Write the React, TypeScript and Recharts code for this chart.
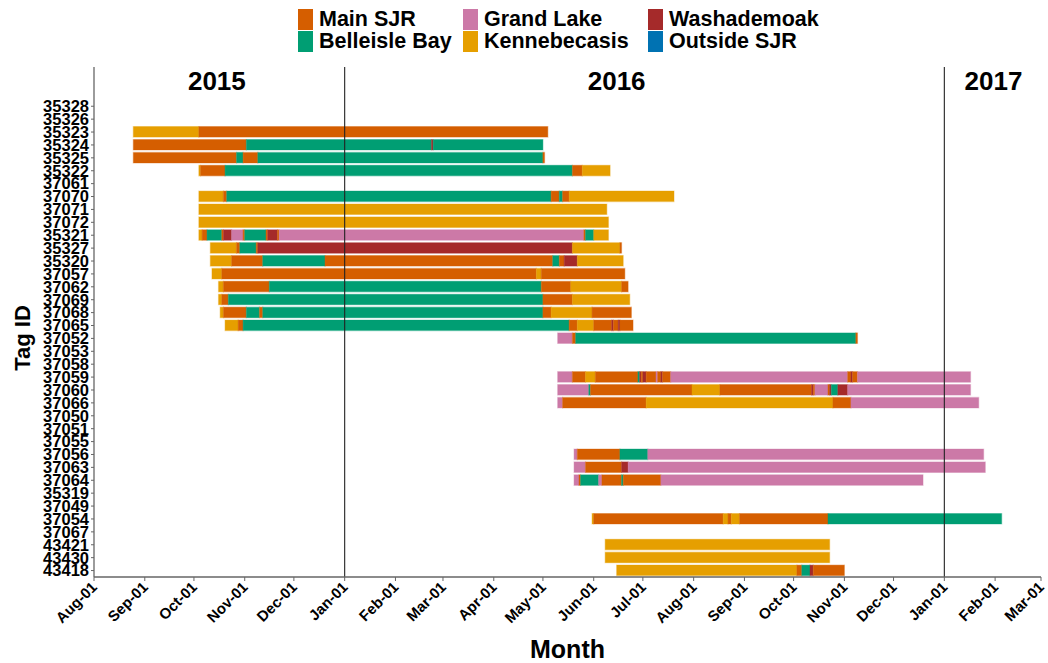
import { Bar, BarChart, Cell, Label, Legend, ReferenceLine, XAxis, YAxis } from 'recharts'

const FONT = '"Liberation Sans", Arial, sans-serif'

const locationCodes = ['M', 'G', 'W', 'B', 'K', 'O']
const locationNames = ['Main SJR', 'Grand Lake', 'Washademoak', 'Belleisle Bay', 'Kennebecasis', 'Outside SJR']
const locationColors = ['#D55E00', '#CC79A7', '#A52A2A', '#009E73', '#E69F00', '#0072B2']

const tagIds = [
  '35328', '35326', '35323', '35324', '35325', '35322', '37061', '37070', '37071', '37072',
  '35321', '35327', '35320', '37057', '37062', '37069', '37068', '37065', '37052', '37053',
  '37058', '37059', '37060', '37066', '37050', '37051', '37055', '37056', '37063', '37064',
  '35319', '37049', '37054', '37067', '43421', '43430', '43418',
]

// each track: date, location, date, location, ..., end date
const tracks: string[][] = [
  [],
  [],
  ['2015-08-25', 'K', '2015-10-04', 'M', '2016-05-04'],
  ['2015-08-25', 'M', '2015-11-02', 'B', '2016-02-23', 'W', '2016-02-24', 'B', '2016-05-01'],
  ['2015-08-25', 'M', '2015-10-27', 'B', '2015-10-31', 'M', '2015-11-09', 'B', '2016-05-01', 'M', '2016-05-02'],
  ['2015-10-04', 'K', '2015-10-05', 'M', '2015-10-20', 'B', '2016-05-19', 'M', '2016-05-25', 'K', '2016-06-11'],
  [],
  ['2015-10-04', 'K', '2015-10-19', 'M', '2015-10-21', 'B', '2016-05-06', 'M', '2016-05-11', 'B', '2016-05-13', 'M', '2016-05-17', 'K', '2016-07-20'],
  ['2015-10-04', 'K', '2016-06-09'],
  ['2015-10-04', 'K', '2016-06-10'],
  ['2015-10-04', 'K', '2015-10-06', 'M', '2015-10-09', 'B', '2015-10-18', 'M', '2015-10-19', 'W', '2015-10-24', 'G', '2015-10-31', 'M', '2015-11-01', 'B', '2015-11-14', 'M', '2015-11-15', 'W', '2015-11-21', 'M', '2015-11-22', 'G', '2016-05-26', 'M', '2016-05-27', 'B', '2016-06-01', 'K', '2016-06-10'],
  ['2015-10-11', 'K', '2015-10-27', 'M', '2015-10-29', 'B', '2015-11-08', 'M', '2015-11-09', 'W', '2016-05-19', 'K', '2016-06-17', 'M', '2016-06-18'],
  ['2015-10-11', 'K', '2015-10-24', 'M', '2015-11-12', 'B', '2015-12-20', 'M', '2016-05-07', 'B', '2016-05-11', 'M', '2016-05-14', 'W', '2016-05-22', 'K', '2016-06-19'],
  ['2015-10-12', 'K', '2015-10-18', 'M', '2016-04-27', 'K', '2016-04-30', 'M', '2016-06-20'],
  ['2015-10-16', 'K', '2015-10-19', 'M', '2015-11-16', 'B', '2016-04-30', 'M', '2016-05-18', 'K', '2016-06-18', 'M', '2016-06-22'],
  ['2015-10-16', 'K', '2015-10-18', 'M', '2015-10-22', 'B', '2016-05-01', 'M', '2016-05-19', 'K', '2016-06-23'],
  ['2015-10-17', 'K', '2015-10-19', 'M', '2015-11-02', 'B', '2015-11-10', 'M', '2015-11-12', 'B', '2016-05-01', 'M', '2016-05-06', 'K', '2016-05-31', 'M', '2016-06-24'],
  ['2015-10-20', 'K', '2015-10-28', 'M', '2015-10-31', 'B', '2016-05-17', 'M', '2016-05-22', 'K', '2016-06-01', 'M', '2016-06-12', 'W', '2016-06-13', 'M', '2016-06-16', 'W', '2016-06-17', 'M', '2016-06-25'],
  ['2016-05-10', 'G', '2016-05-19', 'M', '2016-05-21', 'B', '2016-11-08', 'M', '2016-11-09'],
  [],
  [],
  ['2016-05-10', 'G', '2016-05-19', 'M', '2016-05-27', 'K', '2016-06-02', 'M', '2016-06-28', 'B', '2016-06-29', 'W', '2016-06-30', 'M', '2016-07-01', 'W', '2016-07-03', 'M', '2016-07-09', 'G', '2016-07-10', 'M', '2016-07-12', 'W', '2016-07-13', 'M', '2016-07-18', 'G', '2016-11-03', 'M', '2016-11-05', 'W', '2016-11-06', 'M', '2016-11-09', 'G', '2017-01-17'],
  ['2016-05-10', 'G', '2016-05-29', 'B', '2016-05-30', 'M', '2016-07-31', 'K', '2016-08-17', 'M', '2016-10-12', 'W', '2016-10-13', 'M', '2016-10-14', 'G', '2016-10-22', 'M', '2016-10-23', 'W', '2016-10-24', 'B', '2016-10-28', 'W', '2016-11-03', 'G', '2017-01-17'],
  ['2016-05-10', 'G', '2016-05-13', 'M', '2016-07-03', 'K', '2016-10-25', 'M', '2016-11-05', 'G', '2017-01-22'],
  [],
  [],
  [],
  ['2016-05-20', 'G', '2016-05-22', 'M', '2016-06-17', 'B', '2016-07-04', 'G', '2017-01-25'],
  ['2016-05-20', 'G', '2016-05-27', 'M', '2016-06-18', 'W', '2016-06-22', 'G', '2017-01-26'],
  ['2016-05-20', 'G', '2016-05-23', 'M', '2016-05-24', 'B', '2016-06-04', 'G', '2016-06-06', 'M', '2016-06-18', 'B', '2016-06-19', 'M', '2016-07-12', 'G', '2016-12-19'],
  [],
  [],
  ['2016-05-31', 'K', '2016-06-01', 'M', '2016-08-19', 'K', '2016-08-22', 'M', '2016-08-24', 'K', '2016-08-29', 'M', '2016-10-22', 'B', '2017-02-05'],
  [],
  ['2016-06-08', 'K', '2016-10-23'],
  ['2016-06-08', 'K', '2016-10-23'],
  ['2016-06-15', 'K', '2016-10-03', 'M', '2016-10-06', 'B', '2016-10-11', 'W', '2016-10-13', 'M', '2016-11-01'],
]

const monthTicks = [
  '2015-08-01', '2015-09-01', '2015-10-01', '2015-11-01', '2015-12-01', '2016-01-01', '2016-02-01',
  '2016-03-01', '2016-04-01', '2016-05-01', '2016-06-01', '2016-07-01', '2016-08-01', '2016-09-01',
  '2016-10-01', '2016-11-01', '2016-12-01', '2017-01-01', '2017-02-01', '2017-03-01',
]
const monthLabels = [
  'Aug-01', 'Sep-01', 'Oct-01', 'Nov-01', 'Dec-01', 'Jan-01', 'Feb-01', 'Mar-01', 'Apr-01', 'May-01',
  'Jun-01', 'Jul-01', 'Aug-01', 'Sep-01', 'Oct-01', 'Nov-01', 'Dec-01', 'Jan-01', 'Feb-01', 'Mar-01',
]

const yearBreaks = ['2016-01-01', '2017-01-01']
const yearLabels = ['2015', '2016', '2017']
const yearLabelDates = ['2015-10-15', '2016-06-15', '2017-01-31']

const origin = Date.UTC(2015, 7, 1)
const toDay = (s: string) => (Date.parse(s) - origin) / 86400000

const colorOf = (code: string) => locationColors[locationCodes.indexOf(code)]

const maxSegs = Math.max(...tracks.map((t) => (t.length - 1) / 2))

const rows = tagIds.map((tag, i) => {
  const t = tracks[i]
  const row: any = { tag, s0: t.length ? toDay(t[0]) : 0 }
  for (let k = 1; k <= maxSegs; k++) {
    const idx = 2 * k - 1
    if (idx < t.length) {
      row[`s${k}`] = toDay(t[idx + 1]) - toDay(t[idx - 1])
      row[`c${k}`] = colorOf(t[idx])
    } else {
      row[`s${k}`] = 0
    }
  }
  return row
})

const slots = Array.from({ length: maxSegs }, (_, i) => i + 1)

const LegendBox = () => (
  <div style={{ position: 'relative', width: 1041, height: 58, fontFamily: FONT }}>
    {locationNames.map((name, i) => {
      const left = [298, 463, 648][i % 3]
      const top = Math.floor(i / 3) * 22
      return (
        <div key={name} style={{ position: 'absolute', left, top, height: 21, display: 'flex', alignItems: 'center' }}>
          <div
            style={{
              width: 15,
              height: 21,
              background: locationColors[i],
              boxShadow: `inset 0 0 0 1px ${locationColors[i]}88`,
              marginRight: 6,
            }}
          />
          <span style={{ fontSize: 21.5, fontWeight: 'bold', color: '#000', lineHeight: '21px', whiteSpace: 'nowrap' }}>
            {name}
          </span>
        </div>
      )
    })}
  </div>
)

const MonthTick = ({ x, y, index }: any) => (
  <g transform={`translate(${x + 4},${y + 5}) rotate(-45)`}>
    <text textAnchor='end' fontSize={15} fontWeight='bold' fill='#000' fontFamily={FONT}>
      {monthLabels[index]}
    </text>
  </g>
)

const App = () => (
  <div style={{ position: 'absolute', left: 0, top: 0, width: 1048, height: 663, background: '#fff' }}>
    <BarChart
      width={1048}
      height={663}
      data={rows}
      layout='vertical'
      margin={{ top: 9, right: 7, bottom: 0, left: 0 }}
      barSize={10.5}
      style={{ fontFamily: FONT }}
    >
      <Legend verticalAlign='top' wrapperStyle={{ top: 9, left: 0 }} content={() => <LegendBox />} />
      <XAxis
        type='number'
        domain={[0, toDay('2017-03-01')]}
        ticks={monthTicks.map(toDay)}
        interval={0}
        allowDataOverflow
        height={86}
        tickSize={4}
        axisLine={{ stroke: '#666', strokeWidth: 1.3 }}
        tickLine={{ stroke: '#666' }}
        tick={<MonthTick />}
      >
        <Label
          content={({ viewBox }: any) => (
            <text
              x={viewBox.x + viewBox.width / 2}
              y={viewBox.y + 81}
              textAnchor='middle'
              fontSize={25}
              fontWeight='bold'
              fill='#000'
              fontFamily={FONT}
            >
              Month
            </text>
          )}
        />
      </XAxis>
      <YAxis
        type='category'
        dataKey='tag'
        width={94}
        interval={0}
        tickSize={3}
        padding={{ top: 32.8, bottom: 0 }}
        axisLine={{ stroke: '#666', strokeWidth: 1.3 }}
        tickLine={{ stroke: '#666' }}
        tick={{ fontSize: 16.5, fontWeight: 'bold', fill: '#000', fontFamily: FONT }}
      >
        <Label
          content={() => (
            <text
              x={0}
              y={0}
              transform='translate(30,338) rotate(-90)'
              textAnchor='middle'
              fontSize={22}
              fontWeight='bold'
              fill='#000'
              fontFamily={FONT}
            >
              Tag ID
            </text>
          )}
        />
      </YAxis>
      {yearBreaks.map((d) => (
        <ReferenceLine key={d} x={toDay(d)} stroke='#222' strokeWidth={1.1} />
      ))}
      {yearLabels.map((yr, i) => (
        <ReferenceLine
          key={yr}
          x={toDay(yearLabelDates[i])}
          stroke='none'
          label={({ viewBox }: any) => (
            <text
              x={viewBox.x}
              y={90}
              textAnchor='middle'
              fontSize={26}
              fontWeight='bold'
              fill='#000'
              fontFamily={FONT}
            >
              {yr}
            </text>
          )}
        />
      ))}
      <Bar dataKey='s0' stackId='a' fill='none' isAnimationActive={false} />
      {slots.map((k) => (
        <Bar key={k} dataKey={`s${k}`} stackId='a' isAnimationActive={false} strokeWidth={1.2}>
          {rows.map((r, i) => (
            <Cell key={i} fill={r[`c${k}`] || 'none'} stroke={r[`c${k}`] || 'none'} strokeOpacity={0.35} />
          ))}
        </Bar>
      ))}
    </BarChart>
  </div>
)

export default App
